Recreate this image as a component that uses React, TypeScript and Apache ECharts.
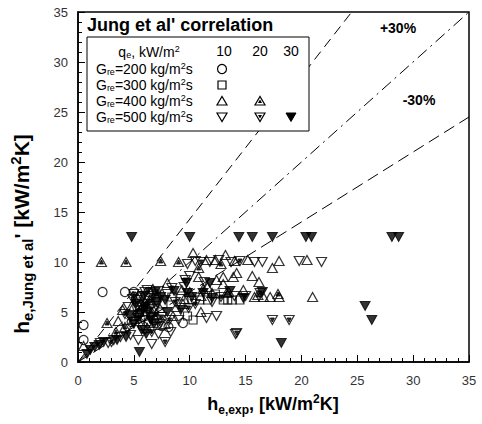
import React, { useEffect, useRef } from 'react';
import * as echarts from 'echarts';

// ---- data (h_e,exp , h_e,Jung et al') in kW/m2K ----
const g200q10 = [
  [0.5, 3.7], [0.5, 2.2], [2.2, 7.0], [4.2, 7.0], [5.0, 7.0], [5.6, 6.6], [6.3, 7.0], [5.3, 5.5],
  [6.0, 4.6], [6.5, 5.8], [5.8, 3.6], [7.5, 3.6], [8.1, 3.5], [9.4, 3.9], [4.8, 4.0], [7.0, 6.2],
  [6.8, 4.2], [5.5, 4.9],
];
const g300q10 = [
  [10.2, 6.2], [10.9, 6.2], [11.6, 6.2], [13.0, 6.2], [13.4, 6.2], [13.8, 6.2], [14.5, 6.2], [10.3, 4.2],
  [9.2, 6.6], [7.0, 6.8], [6.0, 6.5], [6.8, 5.2], [5.5, 6.0], [7.6, 5.8], [8.4, 6.5], [12.3, 6.8],
  [6.3, 4.0], [9.8, 4.6],
];
const g400q10 = [
  [0.5, 1.6], [3.6, 4.1], [8.0, 7.9], [9.5, 6.3], [10.3, 10.9], [11.5, 10.2], [12.3, 10.2], [13.2, 10.7],
  [14.0, 10.1], [15.2, 10.2], [12.4, 8.2], [13.0, 8.5], [13.9, 8.5], [15.6, 8.6], [16.2, 8.0], [17.4, 9.4],
  [18.0, 10.1], [20.5, 10.2], [15.8, 6.5], [16.6, 6.5], [17.2, 6.5], [18.0, 6.5], [21.0, 6.5], [11.0, 5.0],
  [12.0, 6.9], [13.5, 7.0], [14.8, 7.2], [5.5, 5.0], [6.0, 6.0], [6.7, 7.3], [7.3, 5.4], [5.0, 4.3],
  [6.2, 3.4], [4.0, 5.2], [8.8, 5.5], [9.3, 7.2], [10.8, 8.5], [11.6, 7.5], [13.0, 7.8], [14.2, 8.9],
  [5.3, 6.5], [4.8, 5.6], [6.9, 4.4], [7.8, 3.8], [8.5, 4.6], [9.4, 5.8], [10.0, 7.0], [11.0, 6.6],
];
const g400q20 = [
  [2.1, 10.0], [4.3, 10.0], [7.4, 10.1], [2.6, 3.9], [4.2, 3.5], [6.4, 6.2], [7.0, 4.8], [9.0, 10.0],
  [10.8, 9.4], [12.8, 9.8], [17.9, 6.8], [16.1, 6.7], [13.3, 6.9], [11.2, 7.3], [5.8, 5.6], [5.2, 4.6],
  [6.6, 5.0], [3.4, 3.0],
];
const g500q10 = [
  [2.0, 1.9], [2.7, 1.9], [3.2, 2.2], [3.8, 2.5], [4.7, 2.7], [5.4, 2.2], [6.0, 3.2], [6.6, 1.8],
  [7.2, 2.8], [4.4, 3.3], [5.0, 4.0], [5.8, 4.2], [6.5, 4.5], [7.0, 5.6], [6.0, 7.0], [7.2, 7.1],
  [8.0, 6.8], [9.0, 4.2], [9.8, 9.8], [10.5, 10.1], [11.8, 10.0], [12.6, 10.2], [13.7, 10.0], [15.8, 10.0],
  [16.5, 10.0], [19.8, 10.1], [21.8, 10.0], [11.5, 4.4], [12.4, 4.6], [14.1, 2.8], [9.5, 7.5], [10.0, 8.6],
  [11.3, 8.0], [12.0, 6.0], [14.0, 6.6], [8.3, 3.0], [5.3, 6.2], [4.5, 5.5],
];
const g500q20 = [
  [7.8, 2.0], [14.2, 2.9], [17.4, 4.2], [18.9, 4.2], [6.2, 5.8], [7.5, 4.5], [8.7, 6.0], [5.8, 5.2],
  [10.5, 5.8], [12.8, 6.5], [15.0, 6.6], [11.0, 10.0], [14.5, 10.1], [3.0, 2.0], [9.6, 8.2], [6.8, 6.6],
  [16.3, 6.9], [4.9, 6.3], [5.4, 4.4], [6.6, 3.0], [7.3, 3.8], [8.2, 4.2], [4.2, 4.8], [5.0, 6.8],
  [6.2, 7.2], [8.4, 7.4], [9.9, 5.4],
];
const g500q30 = [
  [0.8, 0.8], [1.1, 1.2], [1.5, 1.5], [1.9, 1.7], [2.3, 2.0], [5.5, 1.0], [4.8, 12.5], [10.0, 12.5],
  [14.4, 12.5], [15.6, 12.5], [17.4, 12.5], [20.4, 12.5], [20.9, 12.5], [28.1, 12.5], [28.7, 12.5], [18.2, 1.9],
  [25.7, 5.6], [26.3, 4.2], [11.8, 7.9], [16.5, 7.0], [9.7, 7.9], [6.0, 5.5], [6.5, 4.2], [7.0, 6.0],
  [5.6, 4.8], [8.0, 5.0], [12.0, 6.4], [14.8, 6.4], [10.2, 6.5], [4.3, 2.5], [3.5, 2.2],
  [5.2, 5.8], [5.9, 6.6], [6.3, 5.0], [5.0, 3.8], [6.8, 3.8], [7.4, 6.5], [5.7, 3.2], [6.1, 2.8],
  [7.8, 6.2], [8.6, 7.1], [9.2, 5.2], [4.6, 4.6], [6.9, 7.0], [9.8, 6.9], [11.2, 6.9], [13.6, 7.1],
];

// deviation bands (endpoints)
const plus30Line = [[0, 0], [24.5, 35]];
const parityLine = [[0, 0], [35, 35]];
const minus30Line = [[0, 0], [35, 24.5]];

const heatFluxCols = ['10', '20', '30'];
const massFluxRows = ['200', '300', '400', '500'];

const F = '"Liberation Sans", Arial, sans-serif';
const DOWN = 'path://M0,0L10,0L5,9Z';
const openStyle = { color: 'rgba(0,0,0,0)', borderColor: '#000', borderWidth: 1.2 };
const filled = { color: '#000', borderColor: '#000', borderWidth: 1 };

function richSet(main: number, small: number, lh: number, pad: number, bold: boolean) {
  const fw = bold ? 'bold' : 'normal';
  return {
    n: { fontSize: main, fontWeight: fw, fontFamily: F, lineHeight: lh, verticalAlign: 'middle', fill: '#000' },
    s: { fontSize: small, fontWeight: fw, fontFamily: F, lineHeight: lh, verticalAlign: 'middle', padding: [pad, 0, 0, 0], fill: '#000' },
    p: { fontSize: small, fontWeight: fw, fontFamily: F, lineHeight: lh, verticalAlign: 'middle', padding: [0, 0, pad, 0], fill: '#000' },
  };
}
const richHead = richSet(14, 9, 14, 6, false);
const richRow = richSet(14, 9, 14, 6, false);
const richBigX = richSet(18, 12, 20, 11, true);
const richBigY = richSet(21, 15, 22, 12, true);

function axisCfg(margin: number) {
  return {
    type: 'value',
    min: 0,
    max: 35,
    interval: 5,
    axisLine: { show: true, onZero: false, lineStyle: { color: '#000', width: 1.5 } },
    axisTick: { show: true, inside: true, length: 7, lineStyle: { color: '#000', width: 1 } },
    minorTick: { show: true, splitNumber: 5, length: 4, lineStyle: { color: '#000', width: 1 } },
    splitLine: { show: false },
    minorSplitLine: { show: false },
    axisLabel: { color: '#333', fontSize: 13, fontFamily: F, margin },
  };
}

function lineSeries(data: number[][], type: any) {
  return {
    type: 'line',
    data,
    symbol: 'none',
    silent: true,
    z: 1,
    lineStyle: { color: '#000', width: 1, type },
  };
}

function buildGraphic() {
  const g: any[] = [];
  const Z = 100;
  g.push({
    type: 'text', x: 87, y: 25, z: Z,
    style: { text: "Jung et al' correlation", font: `bold 18px ${F}`, fill: '#000', verticalAlign: 'middle', align: 'left' },
  });
  g.push({
    type: 'rect', z: Z, shape: { x: 87, y: 37, width: 222, height: 94 },
    style: { fill: '#fff', stroke: '#000', lineWidth: 1 },
  });
  g.push({
    type: 'text', x: 149, y: 52, z: Z + 1,
    style: { text: '{n|q}{s|e}{n|, kW/m}{p|2}', rich: richHead, align: 'center', verticalAlign: 'middle' },
  });
  const colX = [224, 260, 291];
  heatFluxCols.forEach((c, i) => {
    g.push({
      type: 'text', x: colX[i], y: 51, z: Z + 1,
      style: { text: c, font: `14px ${F}`, fill: '#000', align: 'center', verticalAlign: 'middle' },
    });
  });
  const rowY = [69, 85, 101, 117];
  massFluxRows.forEach((r, i) => {
    g.push({
      type: 'text', x: 96, y: rowY[i], z: Z + 1,
      style: { text: `{n|G}{s|re}{n|=${r} kg/m}{p|2}{n|s}`, rich: richRow, align: 'left', verticalAlign: 'middle' },
    });
  });
  const ln = { stroke: '#000', lineWidth: 1.2, fill: 'rgba(0,0,0,0)' };
  g.push({ type: 'circle', z: Z + 1, shape: { cx: 222, cy: rowY[0], r: 4.5 }, style: ln });
  g.push({ type: 'rect', z: Z + 1, shape: { x: 218, y: rowY[1] - 4, width: 8, height: 8 }, style: ln });
  const up = (cx: number, cy: number) => [[cx - 5, cy + 4], [cx + 5, cy + 4], [cx, cy - 4.5]];
  const dn = (cx: number, cy: number) => [[cx - 5, cy - 4], [cx + 5, cy - 4], [cx, cy + 4.5]];
  g.push({ type: 'polygon', z: Z + 1, shape: { points: up(222, rowY[2]) }, style: ln });
  g.push({ type: 'polygon', z: Z + 1, shape: { points: up(260, rowY[2]) }, style: ln });
  g.push({ type: 'polygon', z: Z + 2, shape: { points: [[258, rowY[2] + 2], [262, rowY[2] + 2], [260, rowY[2] - 1.5]] }, style: { fill: '#000' } });
  g.push({ type: 'polygon', z: Z + 1, shape: { points: dn(222, rowY[3]) }, style: ln });
  g.push({ type: 'polygon', z: Z + 1, shape: { points: dn(260, rowY[3]) }, style: ln });
  g.push({ type: 'polygon', z: Z + 2, shape: { points: [[258, rowY[3] - 2], [262, rowY[3] - 2], [260, rowY[3] + 1.5]] }, style: { fill: '#000' } });
  g.push({ type: 'polygon', z: Z + 1, shape: { points: dn(291, rowY[3]) }, style: { fill: '#000', stroke: '#000', lineWidth: 1 } });

  g.push({ type: 'text', x: 398, y: 28, z: Z, style: { text: '+30%', font: `bold 14px ${F}`, fill: '#000', align: 'center', verticalAlign: 'middle' } });
  g.push({ type: 'text', x: 419, y: 100, z: Z, style: { text: '-30%', font: `bold 14px ${F}`, fill: '#000', align: 'center', verticalAlign: 'middle' } });

  g.push({
    type: 'text', x: 273, y: 404, z: Z,
    style: { text: '{n|h}{s|e,exp}{n|, [kW/m}{p|2}{n|K]}', rich: richBigX, align: 'center', verticalAlign: 'middle' },
  });
  g.push({
    type: 'text', x: 21, y: 234, z: Z, rotation: Math.PI / 2,
    style: { text: "{n|h}{s|e,Jung et al}{n|' [kW/m}{p|2}{n|K]}", rich: richBigY, align: 'center', verticalAlign: 'middle' },
  });
  return g;
}

export default function App() {
  const ref = useRef<HTMLDivElement>(null);
  useEffect(() => {
    const chart = echarts.init(ref.current!, null, { renderer: 'svg' });
    const option: any = {
      animation: false,
      backgroundColor: '#fff',
      grid: { left: 78, top: 12, right: 13, bottom: 62, show: true, borderColor: '#000', borderWidth: 1.5 },
      xAxis: axisCfg(12),
      yAxis: axisCfg(10),
      series: [
        lineSeries(plus30Line, [10, 6]),
        lineSeries(parityLine, [12, 5, 2, 5]),
        lineSeries(minus30Line, [12, 6]),
        { type: 'scatter', data: g200q10, symbol: 'circle', symbolSize: 9, itemStyle: openStyle, z: 2 },
        { type: 'scatter', data: g300q10, symbol: 'rect', symbolSize: 8, itemStyle: openStyle, z: 2 },
        { type: 'scatter', data: g400q10, symbol: 'triangle', symbolSize: [10, 9], itemStyle: openStyle, z: 2 },
        { type: 'scatter', data: g400q20, symbol: 'triangle', symbolSize: [10, 9], itemStyle: openStyle, z: 2 },
        { type: 'scatter', data: g400q20, symbol: 'triangle', symbolSize: [4, 4], itemStyle: filled, silent: true, z: 3 },
        { type: 'scatter', data: g500q10, symbol: DOWN, symbolSize: [10, 9], itemStyle: openStyle, z: 2 },
        { type: 'scatter', data: g500q20, symbol: DOWN, symbolSize: [10, 9], itemStyle: openStyle, z: 2 },
        { type: 'scatter', data: g500q20, symbol: DOWN, symbolSize: [4, 4], itemStyle: filled, silent: true, z: 3 },
        { type: 'scatter', data: g500q30, symbol: DOWN, symbolSize: [10, 9], itemStyle: filled, z: 3 },
      ],
      graphic: buildGraphic(),
    };
    chart.setOption(option);
    return () => chart.dispose();
  }, []);
  return <div ref={ref} style={{ position: 'absolute', left: 0, top: 0, width: 482, height: 424 }} />;
}
